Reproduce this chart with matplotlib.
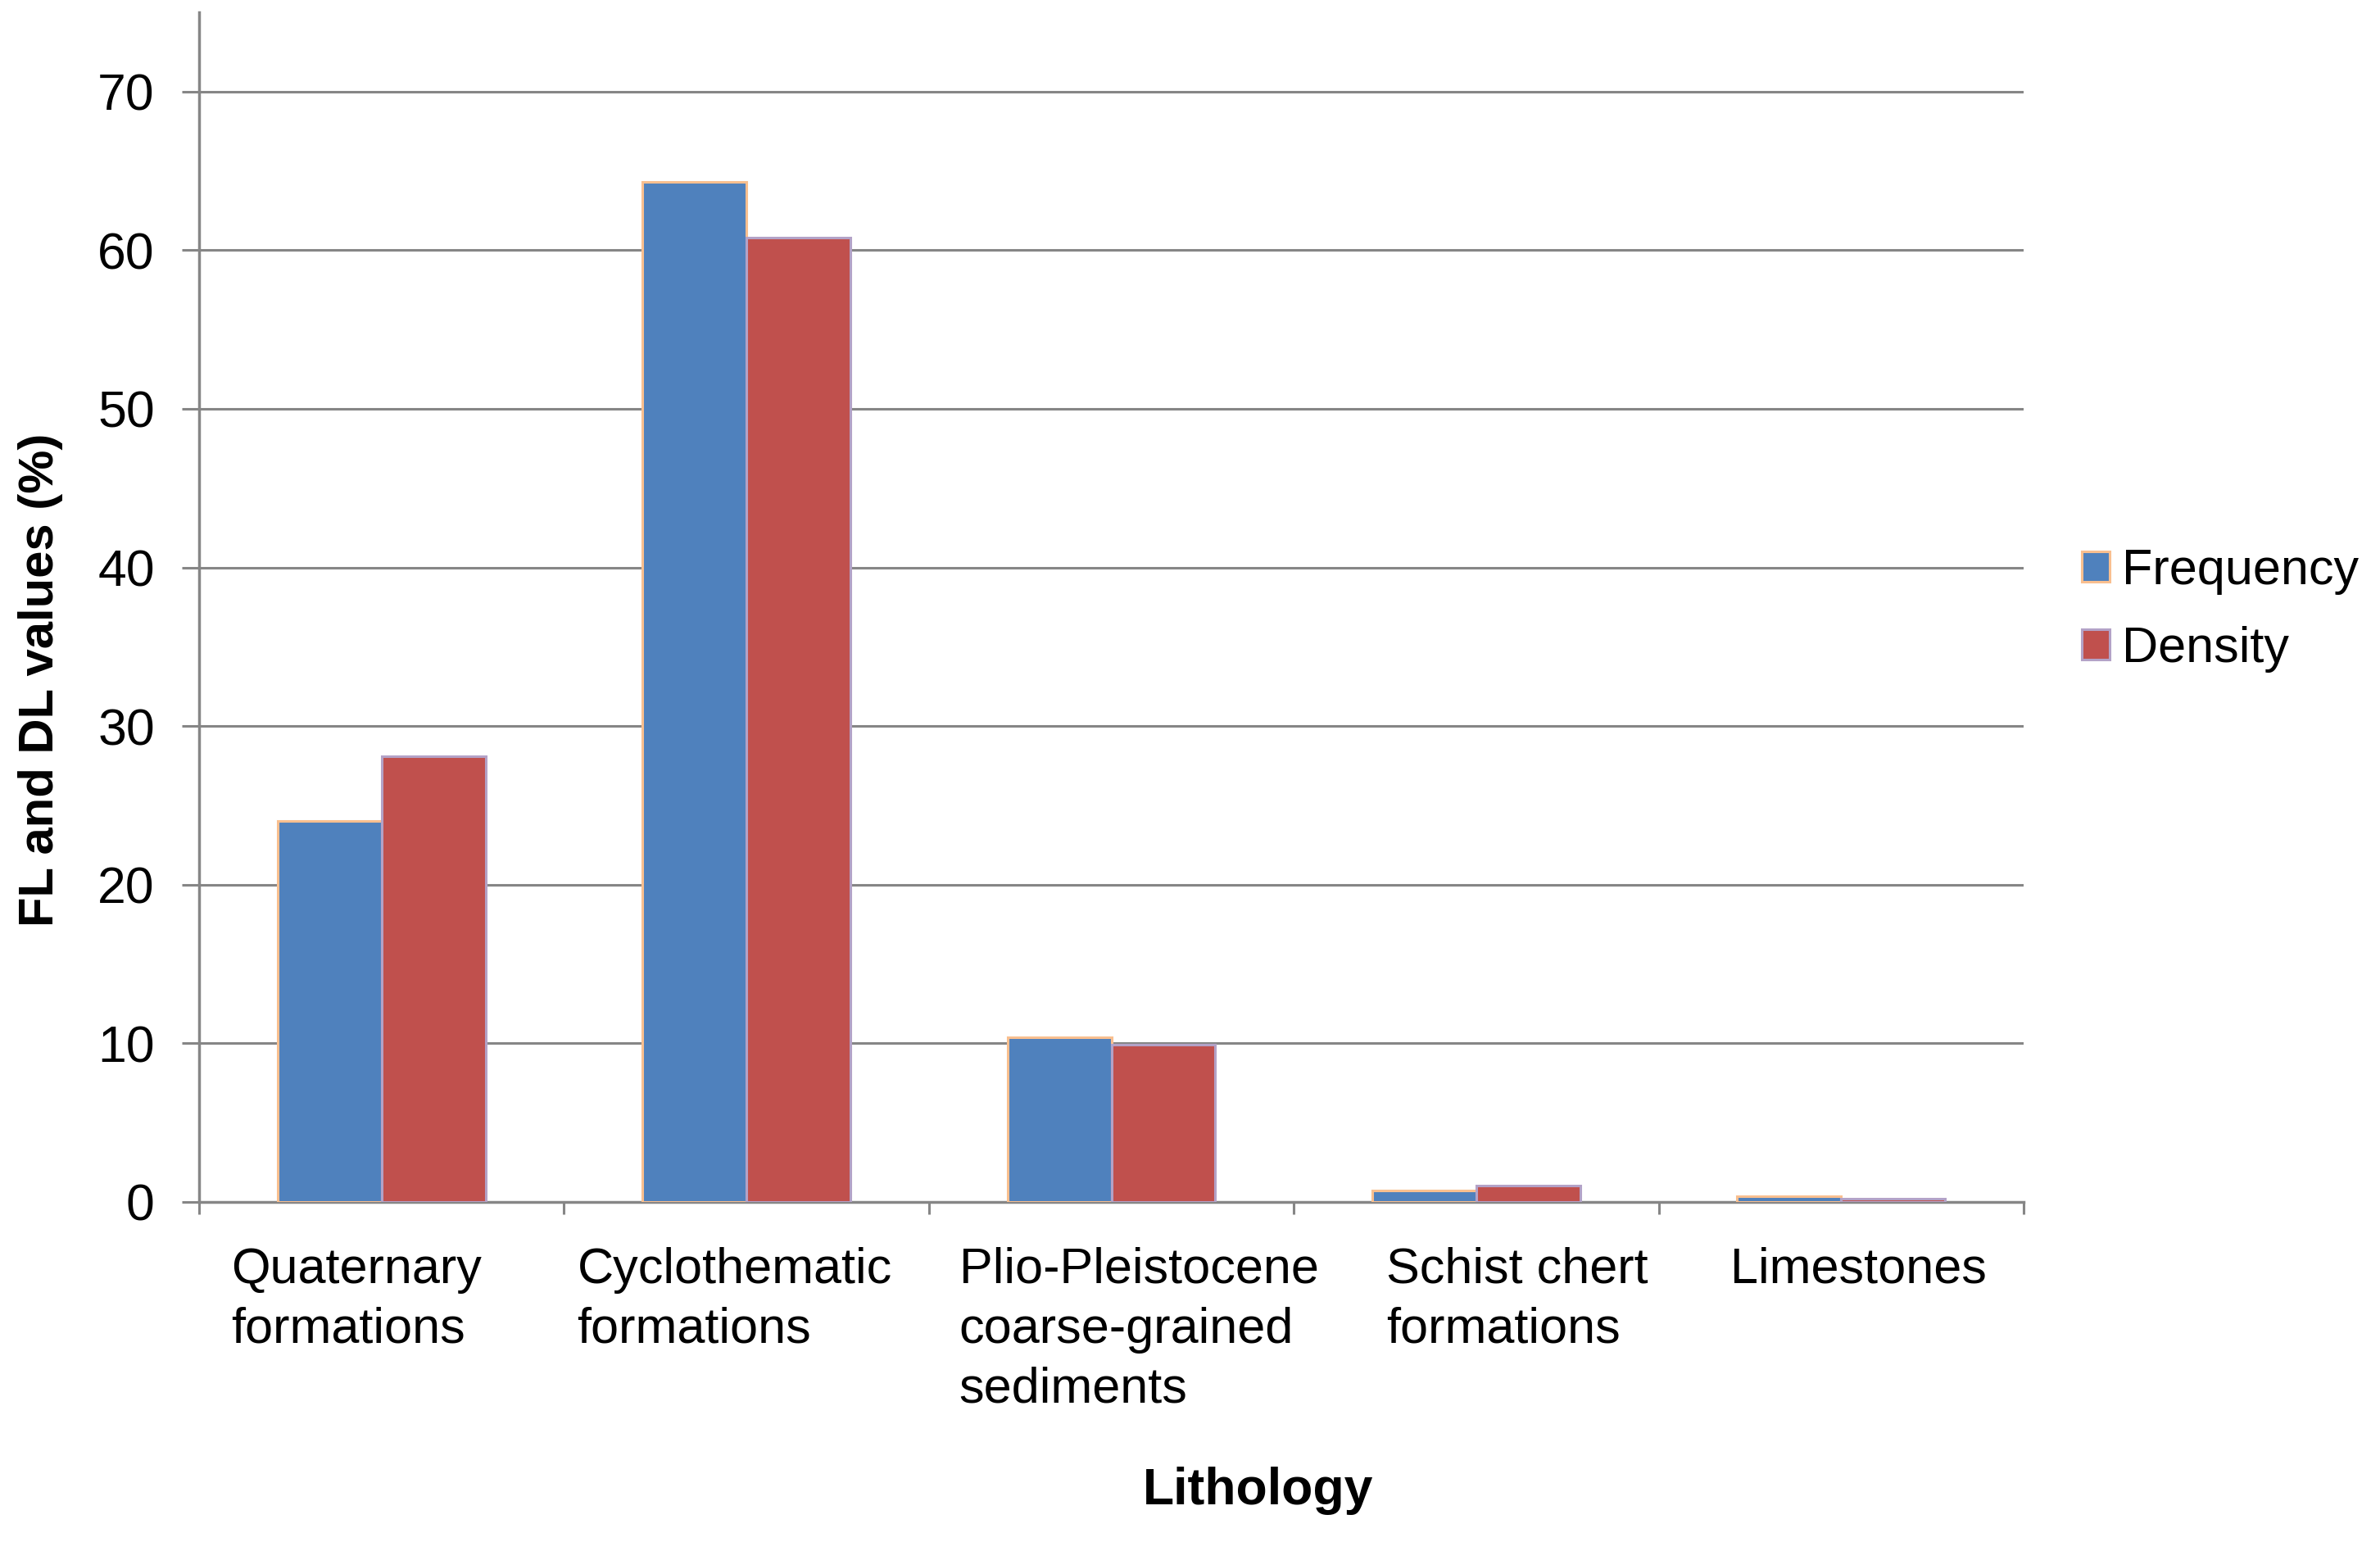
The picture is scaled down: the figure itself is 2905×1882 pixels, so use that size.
import matplotlib
matplotlib.use("Agg")
import matplotlib.pyplot as plt
import numpy as np
from matplotlib.transforms import blended_transform_factory

categories = ["Quaternary\nformations", "Cyclothematic\nformations",
              "Plio-Pleistocene\ncoarse-grained\nsediments",
              "Schist chert\nformations", "Limestones"]
frequency = [24.0, 64.3, 10.4, 0.7, 0.35]
density = [28.1, 60.8, 9.9, 1.05, 0.2]
yticks = [0, 10, 20, 30, 40, 50, 60, 70]

# style
plt.rcParams['font.family'] = ['Liberation Sans', 'DejaVu Sans']
blue, red = "#4F81BD", "#C0504D"
blue_edge, red_edge = "#F9BF8F", "#B3A2C7"
grey = "#868686"
label_offsets = [0.087, 0.036, 0.083, 0.253, 0.196]

fig = plt.figure(figsize=(29.05, 18.82), dpi=100)
ax = fig.add_axes([243/2905, 1-1467/1882, (2470-243)/2905, (1467-15)/1882])

x = np.arange(len(categories)) + 0.5
w = 0.285
ax.bar(x - w/2, frequency, w, color=blue, edgecolor=blue_edge, linewidth=2.2,
       label="Frequency", zorder=3)
ax.bar(x + w/2, density, w, color=red, edgecolor=red_edge, linewidth=2.2,
       label="Density", zorder=3)

ax.set_xlim(0, len(categories))
ax.set_ylim(0, 75)
ax.set_yticks(yticks)
ax.set_yticklabels([str(v) for v in yticks], fontsize=45)
for v in yticks[1:]:
    ax.axhline(v, color=grey, linewidth=2.2, zorder=1)

ax.set_xticks(np.arange(len(categories) + 1))
ax.set_xticklabels([])
ax.tick_params(axis='x', direction='out', length=11, width=2.2, color=grey)
ax.tick_params(axis='y', direction='out', length=15, width=2.2, color=grey, pad=24)

for s in ['top', 'right']:
    ax.spines[s].set_visible(False)
for s in ['left', 'bottom']:
    ax.spines[s].set_color(grey)
    ax.spines[s].set_linewidth(2.5)

trans = blended_transform_factory(ax.transData, fig.transFigure)
for i, (lab, off) in enumerate(zip(categories, label_offsets)):
    ax.text(i + off, 1 - 1522/1882, lab, transform=trans, ha='left', va='top',
            fontsize=44, linespacing=1.36)

fig.text(1536/2905, 1 - 1836/1882, "Lithology", ha='center', va='baseline',
         fontsize=45, fontweight='bold')
fig.text(50/2905, 1 - 830/1882, "FL and DL values (%)", ha='center', va='center',
         rotation=90, fontsize=43, fontweight='bold')

leg = ax.legend(loc='center left', bbox_to_anchor=(2541/2905, 1 - 745/1882),
                bbox_transform=fig.transFigure, frameon=False, fontsize=44,
                handlelength=0.55, handleheight=0.55, handletextpad=0.25,
                labelspacing=0.62, borderpad=0, borderaxespad=0)

fig.savefig("out.png", dpi=100)
